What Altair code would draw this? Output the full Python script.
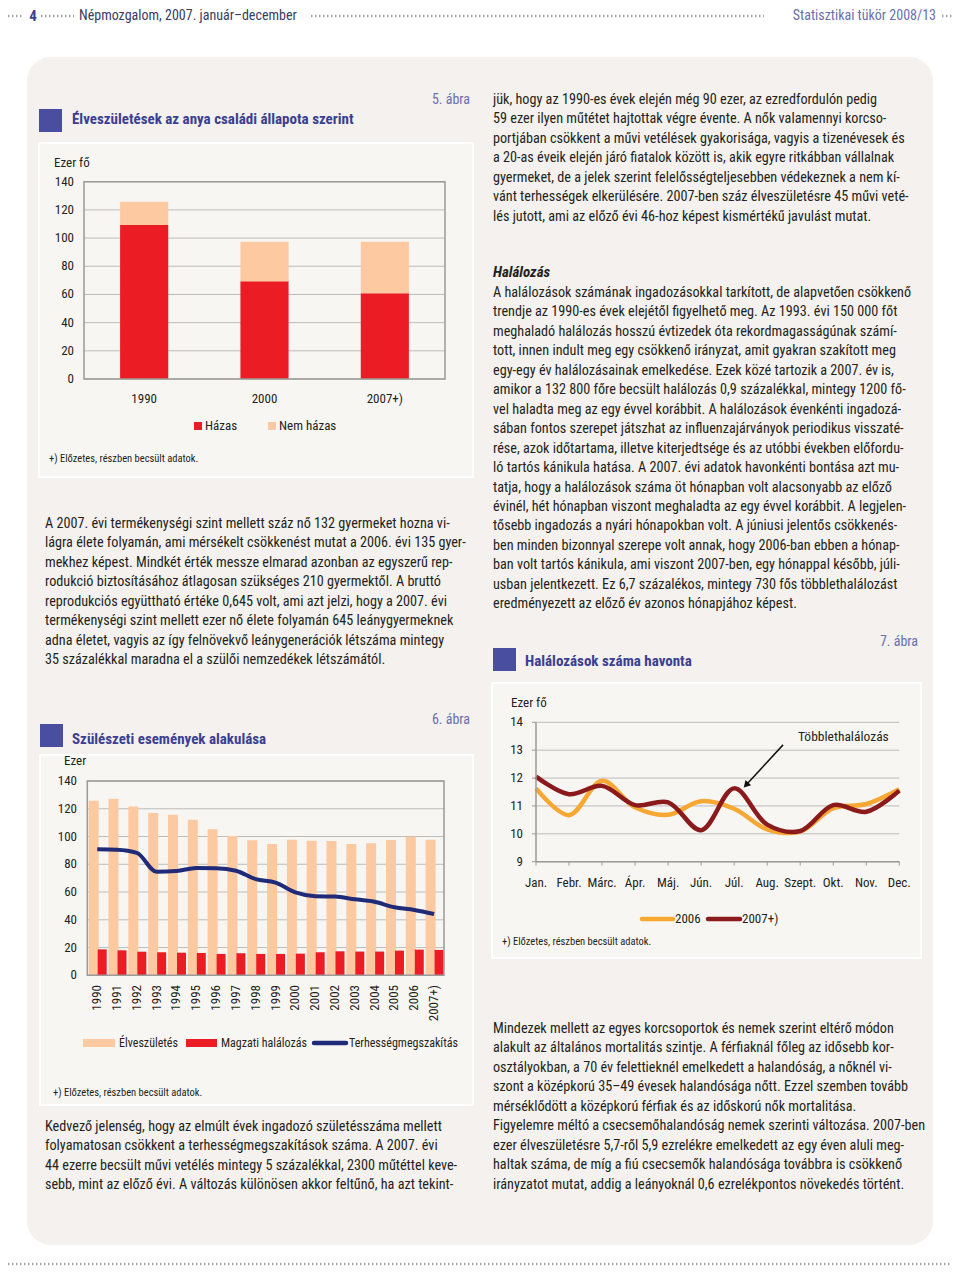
import altair as alt
import pandas as pd

# ---------------- data ----------------
fig5_years = ["1990", "2000", "2007+)"]
fig5_married = [109.3, 69.3, 60.8]
fig5_unmarried = [16.5, 28.1, 36.6]
fig5_ticks = [0, 20, 40, 60, 80, 100, 120, 140]

fig6_years = ["1990", "1991", "1992", "1993", "1994", "1995", "1996", "1997", "1998",
              "1999", "2000", "2001", "2002", "2003", "2004", "2005", "2006", "2007+)"]
fig6_births = [125.7, 127.2, 121.7, 117.0, 115.6, 112.1, 105.3, 100.4, 97.3,
               94.6, 97.6, 97.0, 96.8, 94.6, 95.1, 97.5, 99.9, 97.6]
fig6_fetal = [18.7, 18.0, 17.0, 16.6, 16.3, 16.1, 15.4, 15.9, 15.4,
              15.4, 15.6, 16.6, 17.3, 17.1, 17.1, 17.8, 18.5, 18.3]
fig6_abortion = [90.8, 90.5, 88.2, 74.6, 75.1, 77.4, 77.2, 75.3, 69.3,
                 66.8, 59.8, 57.0, 56.7, 54.8, 53.0, 49.0, 47.1, 44.2]
fig6_ticks = [0, 20, 40, 60, 80, 100, 120, 140]

fig7_months = ["Jan.", "Febr.", "Márc.", "Ápr.", "Máj.", "Jún.", "Júl.", "Aug.",
               "Szept.", "Okt.", "Nov.", "Dec."]
fig7_month_no = [1, 2, 3, 4, 5, 6, 7, 8, 9, 10, 11, 12]
fig7_2006 = [11.63, 10.67, 11.90, 10.95, 10.68, 11.17, 10.90, 10.16, 10.08, 10.92, 11.07, 11.60]
fig7_2007 = [12.05, 11.42, 11.72, 11.03, 11.13, 10.13, 11.63, 10.33, 10.10, 11.03, 10.79, 11.55]
fig7_ticks = [9, 10, 11, 12, 13, 14]
# arrow annotation (month position, value)
fig7_arrow_tail = (8.48, 13.19)
fig7_arrow_tip = (7.36, 11.75)

text_right_top = [
    "jük, hogy az 1990-es évek elején még 90 ezer, az ezredfordulón pedig",
    "59 ezer ilyen műtétet hajtottak végre évente. A nők valamennyi korcso-",
    "portjában csökkent a művi vetélések gyakorisága, vagyis a tizenévesek és",
    "a 20-as éveik elején járó fiatalok között is, akik egyre ritkábban vállalnak",
    "gyermeket, de a jelek szerint felelősségteljesebben védekeznek a nem kí-",
    "vánt terhességek elkerülésére. 2007-ben száz élveszületésre 45  művi veté-",
    "lés jutott, ami az előző évi 46-hoz képest kismértékű javulást mutat.",
]
text_halalozas = [
    "A halálozások számának ingadozásokkal tarkított, de alapvetően csökkenő",
    "trendje az 1990-es évek elejétől figyelhető meg. Az 1993. évi 150 000 főt",
    "meghaladó halálozás hosszú évtizedek óta rekordmagasságúnak számí-",
    "tott, innen indult meg egy csökkenő irányzat, amit gyakran szakított meg",
    "egy-egy év halálozásainak emelkedése. Ezek közé tartozik a 2007. év is,",
    "amikor a 132 800 főre becsült halálozás 0,9 százalékkal, mintegy 1200 fő-",
    "vel haladta meg az egy évvel korábbit. A halálozások évenkénti ingadozá-",
    "sában fontos szerepet játszhat az influenzajárványok periodikus visszaté-",
    "rése, azok időtartama, illetve kiterjedtsége és az utóbbi években előfordu-",
    "ló tartós kánikula hatása. A 2007. évi adatok havonkénti bontása azt mu-",
    "tatja, hogy a halálozások száma öt hónapban volt alacsonyabb az előző",
    "évinél, hét hónapban viszont meghaladta az egy évvel korábbit. A legjelen-",
    "tősebb ingadozás a nyári hónapokban volt. A júniusi jelentős csökkenés-",
    "ben minden bizonnyal szerepe volt annak, hogy 2006-ban ebben a hónap-",
    "ban volt tartós kánikula, ami viszont 2007-ben, egy hónappal később, júli-",
    "usban jelentkezett. Ez 6,7 százalékos, mintegy 730 fős többlethalálozást",
    "eredményezett az előző év azonos hónapjához képest.",
]
text_left_mid = [
    "A 2007. évi termékenységi szint mellett száz nő 132 gyermeket hozna vi-",
    "lágra élete folyamán, ami mérsékelt csökkenést mutat a 2006. évi 135 gyer-",
    "mekhez képest. Mindkét érték messze elmarad azonban az egyszerű rep-",
    "rodukció biztosításához átlagosan szükséges 210 gyermektől. A bruttó",
    "reprodukciós együttható értéke 0,645 volt, ami azt jelzi, hogy a 2007. évi",
    "termékenységi szint mellett ezer nő élete folyamán 645 leánygyermeknek",
    "adna életet, vagyis az így felnövekvő leánygenerációk létszáma mintegy",
    "35 százalékkal maradna el a szülői nemzedékek létszámától.",
]
text_left_bottom = [
    "Kedvező jelenség, hogy az elmúlt évek ingadozó születésszáma mellett",
    "folyamatosan csökkent a terhességmegszakítások száma. A 2007. évi",
    "44 ezerre becsült művi vetélés mintegy 5 százalékkal, 2300 műtéttel keve-",
    "sebb, mint az előző évi. A változás különösen akkor feltűnő, ha azt tekint-",
]
text_right_bottom = [
    "Mindezek mellett az egyes korcsoportok és nemek szerint eltérő módon",
    "alakult az általános mortalitás szintje. A férfiaknál főleg az idősebb kor-",
    "osztályokban, a 70 év felettieknél emelkedett a halandóság, a nőknél vi-",
    "szont a középkorú 35–49 évesek halandósága nőtt. Ezzel szemben tovább",
    "mérséklődött a középkorú férfiak és az időskorú nők mortalitása.",
    "Figyelemre méltó a csecsemőhalandóság nemek szerinti változása. 2007-ben",
    "ezer élveszületésre 5,7-ről 5,9 ezrelékre emelkedett az egy éven aluli meg-",
    "haltak száma, de míg a fiú csecsemők halandósága továbbra is csökkenő",
    "irányzatot mutat, addig a leányoknál 0,6 ezrelékpontos növekedés történt.",
]

# ---------------- style ----------------
FONT = "Liberation Sans Narrow, Arial Narrow, Roboto Condensed, DejaVu Sans Condensed, sans-serif"
RED = "#ec1c24"
PEACH = "#fcc9a1"
NAVY = "#1f2a78"
ORANGE = "#f6a833"
DARKRED = "#8a1a1c"
BLUE = "#3b3f93"
SQUARE = "#4a4ea0"
LIGHTBLUE = "#6a6fae"
TXT = "#231f20"
GRID = "#bcbcbc"
FRAME = "#9a9a9a"
PANEL = "#f4f1ee"
BOX = "#f8f6f3"
DOTS = "#a8a8a8"

M = 8  # page margin


def px(v):
    return v - M


one = pd.DataFrame({"k": [0]})


def rect(x1, y1, x2, y2, **kw):
    return alt.Chart(one).mark_rect(**kw).encode(
        x=alt.value(px(x1)), x2=alt.value(px(x2)),
        y=alt.value(px(y1)), y2=alt.value(px(y2)))


def hrule(x1, x2, y, **kw):
    return alt.Chart(one).mark_rule(**kw).encode(
        x=alt.value(px(x1)), x2=alt.value(px(x2)), y=alt.value(px(y)))


def label(s, x, y, size=13, color=TXT, align="left", weight="normal", style="normal"):
    return alt.Chart(pd.DataFrame({"t": [s]})).mark_text(
        align=align, baseline="middle", fontSize=size, color=color,
        fontWeight=weight, fontStyle=style, font=FONT).encode(
        x=alt.value(px(x)), y=alt.value(px(y)), text="t:N")


def block(lines, x, y0, lh=19.45, size=14.2):
    df = pd.DataFrame({"t": lines, "i": list(range(len(lines)))})
    return alt.Chart(df).transform_calculate(
        py=f"{px(y0)} + datum.i * {lh}").mark_text(
        align="left", baseline="middle", fontSize=size, color=TXT, font=FONT).encode(
        x=alt.value(px(x)), y=alt.Y("py:Q", scale=None, axis=None), text="t:N")


def fig_title(num, title, sq_x, sq_y, title_x, title_y, num_right, num_y):
    return [
        rect(sq_x, sq_y, sq_x + 23, sq_y + 23, fill=SQUARE),
        label(title, title_x, title_y, size=15, color=BLUE, weight="bold"),
        label(num, num_right, num_y, size=14, color=LIGHTBLUE, align="right"),
    ]


# ---------------- figure 5 ----------------
d5 = pd.DataFrame({"year": fig5_years, "married": fig5_married, "unmarried": fig5_unmarried})
t5 = pd.DataFrame({"v": fig5_ticks})
X5 = alt.Scale(domain=fig5_years, range=[px(84), px(445)], paddingInner=0.6, paddingOuter=0.3)
Y5 = alt.Scale(domain=[0, 140], range=[px(379), px(181.7)], nice=False, zero=False)
x5 = alt.X("year:N", scale=X5, axis=None)

fig5 = alt.layer(
    alt.Chart(t5).mark_rule(color=GRID, strokeWidth=1).encode(
        x=alt.value(px(84)), x2=alt.value(px(445)), y=alt.Y("v:Q", scale=Y5, axis=None)),
    alt.Chart(d5).mark_bar(color=RED).encode(
        x=x5, y=alt.Y("married:Q", scale=Y5, axis=None)),
    alt.Chart(d5).transform_calculate(total="datum.married + datum.unmarried").mark_bar(color=PEACH).encode(
        x=x5, y=alt.Y("married:Q", scale=Y5, axis=None), y2="total:Q"),
    alt.Chart(t5).mark_text(align="right", baseline="middle", font=FONT, fontSize=13, color=TXT).encode(
        x=alt.value(px(74)), y=alt.Y("v:Q", scale=Y5, axis=None), text="v:Q"),
    alt.Chart(d5).mark_text(align="center", baseline="middle", font=FONT, fontSize=13, color=TXT).encode(
        x=x5, y=alt.value(px(399)), text="year:N"),
)

# ---------------- figure 6 ----------------
d6 = pd.DataFrame({"year": fig6_years, "births": fig6_births, "fetal": fig6_fetal,
                   "abortion": fig6_abortion})
t6 = pd.DataFrame({"v": fig6_ticks})
X6 = alt.Scale(domain=fig6_years, range=[px(87.3), px(444)], paddingInner=0, paddingOuter=0)
Y6 = alt.Scale(domain=[0, 140], range=[px(975.3), px(781)], nice=False, zero=False)
x6 = alt.X("year:N", scale=X6, axis=None)

fig6 = alt.layer(
    alt.Chart(t6).mark_rule(color=GRID, strokeWidth=1).encode(
        x=alt.value(px(87.3)), x2=alt.value(px(444)), y=alt.Y("v:Q", scale=Y6, axis=None)),
    alt.Chart(d6).mark_bar(color=PEACH, width=10, xOffset=-3.5).encode(
        x=x6, y=alt.Y("births:Q", scale=Y6, axis=None)),
    alt.Chart(d6).mark_bar(color=RED, width=9, xOffset=5).encode(
        x=x6, y=alt.Y("fetal:Q", scale=Y6, axis=None)),
    alt.Chart(d6).mark_line(color=NAVY, strokeWidth=4, interpolate="monotone").encode(
        x=x6, y=alt.Y("abortion:Q", scale=Y6, axis=None)),
    alt.Chart(t6).mark_text(align="right", baseline="middle", font=FONT, fontSize=13, color=TXT).encode(
        x=alt.value(px(77)), y=alt.Y("v:Q", scale=Y6, axis=None), text="v:Q"),
    alt.Chart(d6).mark_text(align="right", baseline="middle", angle=270, font=FONT, fontSize=13, color=TXT).encode(
        x=x6, y=alt.value(px(985)), text="year:N"),
)

# ---------------- figure 7 ----------------
d7 = pd.DataFrame({
    "m": fig7_month_no * 2,
    "v": fig7_2006 + fig7_2007,
    "s": ["2006"] * 12 + ["2007+)"] * 12,
})
m7 = pd.DataFrame({"m": fig7_month_no, "name": fig7_months})
t7 = pd.DataFrame({"v": fig7_ticks})
X7 = alt.Scale(domain=[1, 12], range=[px(536), px(899.3)], nice=False, zero=False)
Y7 = alt.Scale(domain=[9, 14], range=[px(861.7), px(722.3)], nice=False, zero=False)
arrow = pd.DataFrame({"x1": [fig7_arrow_tail[0]], "y1": [fig7_arrow_tail[1]],
                      "x2": [fig7_arrow_tip[0]], "y2": [fig7_arrow_tip[1]]})

fig7 = alt.layer(
    alt.Chart(t7).mark_rule(color=GRID, strokeWidth=1).encode(
        x=alt.value(px(536)), x2=alt.value(px(899.3)), y=alt.Y("v:Q", scale=Y7, axis=None)),
    alt.Chart(t7).mark_rule(color=FRAME, strokeWidth=1).encode(
        x=alt.value(px(532)), x2=alt.value(px(536)), y=alt.Y("v:Q", scale=Y7, axis=None)),
    alt.Chart(m7).mark_rule(color=FRAME, strokeWidth=1).encode(
        x=alt.X("m:Q", scale=X7, axis=None), y=alt.value(px(861.7)), y2=alt.value(px(865.5))),
    alt.Chart(d7).transform_filter("datum.s == '2006'").mark_line(
        color=ORANGE, strokeWidth=4.5, interpolate="catmull-rom").encode(
        x=alt.X("m:Q", scale=X7, axis=None), y=alt.Y("v:Q", scale=Y7, axis=None)),
    alt.Chart(d7).transform_filter("datum.s == '2007+)'").mark_line(
        color=DARKRED, strokeWidth=4.5, interpolate="catmull-rom").encode(
        x=alt.X("m:Q", scale=X7, axis=None), y=alt.Y("v:Q", scale=Y7, axis=None)),
    alt.Chart(t7).mark_text(align="right", baseline="middle", font=FONT, fontSize=13, color=TXT).encode(
        x=alt.value(px(523)), y=alt.Y("v:Q", scale=Y7, axis=None), text="v:Q"),
    alt.Chart(m7).mark_text(align="center", baseline="middle", font=FONT, fontSize=13, color=TXT).encode(
        x=alt.X("m:Q", scale=X7, axis=None), y=alt.value(px(883)), text="name:N"),
    alt.Chart(arrow).mark_rule(color="#111111", strokeWidth=1.5).encode(
        x=alt.X("x1:Q", scale=X7, axis=None), x2="x2:Q",
        y=alt.Y("y1:Q", scale=Y7, axis=None), y2="y2:Q"),
    alt.Chart(arrow).mark_point(shape="triangle-up", filled=True, size=60, angle=223,
                                color="#111111", opacity=1).encode(
        x=alt.X("x2:Q", scale=X7, axis=None), y=alt.Y("y2:Q", scale=Y7, axis=None)),
)

# ---------------- page furniture ----------------
HY = 16  # header line (page y); the page margin leaves no room higher up
layers = [
    rect(27, 57, 933, 1245, fill=PANEL, cornerRadius=24),
    # header
    hrule(0, 24, HY, color=DOTS, strokeWidth=2.5, strokeDash=[1.5, 2.5]),
    label("4", 33, HY, size=15, color=BLUE, align="center", weight="bold"),
    hrule(41, 74, HY, color=DOTS, strokeWidth=2.5, strokeDash=[1.5, 2.5]),
    label("Népmozgalom, 2007. január–december", 79, HY, size=14, color="#3a3c66"),
    hrule(311, 764, HY, color=DOTS, strokeWidth=2.5, strokeDash=[1.5, 2.5]),
    label("Statisztikai tükör  2008/13", 936, HY, size=14, color=LIGHTBLUE, align="right"),
    hrule(942, 960, HY, color=DOTS, strokeWidth=2.5, strokeDash=[1.5, 2.5]),
    hrule(0, 960, 1264, color=DOTS, strokeWidth=2.5, strokeDash=[1.5, 2.5]),
    # figure boxes
    rect(39, 143, 473, 477, fill=BOX, stroke="#ffffff", strokeWidth=2),
    rect(40, 755, 473, 1105, fill=BOX, stroke="#ffffff", strokeWidth=2),
    rect(492, 683, 921, 958, fill=BOX, stroke="#ffffff", strokeWidth=2),
]

# figure 5 decorations
layers += fig_title("5. ábra", "Élveszületések az anya családi állapota szerint",
                    39, 109, 72, 119, 470, 100)
layers += [
    label("Ezer fő", 54, 163, size=13),
    fig5,
    rect(84, 181.7, 445, 379, fill="transparent", stroke=FRAME, strokeWidth=1.5),
    rect(194, 422, 202, 430, fill=RED),
    label("Házas", 205, 426, size=13),
    rect(268, 422, 276, 430, fill=PEACH),
    label("Nem házas", 279, 426, size=13),
    label("+) Előzetes, részben becsült adatok.", 49, 459, size=10.5),
]

# figure 6 decorations
layers += fig_title("6. ábra", "Szülészeti események alakulása",
                    40, 724, 72, 739, 470, 720)
layers += [
    label("Ezer", 64, 761, size=13),
    fig6,
    rect(87.3, 781, 444, 975.3, fill="transparent", stroke=FRAME, strokeWidth=1.5),
    rect(83, 1039, 115, 1047, fill=PEACH),
    label("Élveszületés", 119, 1043, size=12),
    rect(186, 1039, 217, 1047, fill=RED),
    label("Magzati halálozás", 221, 1043, size=12),
    hrule(314, 346, 1043, color=NAVY, strokeWidth=4.5, strokeCap="round"),
    label("Terhességmegszakítás", 349, 1043, size=12),
    label("+) Előzetes, részben becsült adatok.", 53, 1093, size=10.5),
]

# figure 7 decorations
layers += fig_title("7. ábra", "Halálozások száma havonta",
                    493, 648, 525, 661, 918, 642)
layers += [
    label("Ezer fő", 511, 703, size=13),
    fig7,
    alt.Chart(one).mark_rule(color=FRAME, strokeWidth=1.5).encode(
        x=alt.value(px(536)), y=alt.value(px(722.3)), y2=alt.value(px(861.7))),
    hrule(536, 899.3, 861.7, color=FRAME, strokeWidth=1.5),
    label("Többlethalálozás", 798, 737, size=13.5),
    hrule(642, 673, 919, color=ORANGE, strokeWidth=4.5, strokeCap="round"),
    label("2006", 675, 919, size=13),
    hrule(708, 740, 919, color=DARKRED, strokeWidth=4.5, strokeCap="round"),
    label("2007+)", 742, 919, size=13),
    label("+) Előzetes, részben becsült adatok.", 502, 942, size=10.5),
]

# body text
layers += [
    block(text_right_top, 493, 100),
    label("Halálozás", 493, 272, size=15, weight="bold", style="italic"),
    block(text_halalozas, 493, 293),
    block(text_left_mid, 45, 524),
    block(text_left_bottom, 45, 1127),
    block(text_right_bottom, 493, 1029),
]

chart = alt.layer(*layers).resolve_scale(
    x="independent", y="independent"
).properties(
    width=944, height=1258, padding=0, background="white",
    autosize=alt.AutoSizeParams(type="none"),
).configure_view(stroke=None)

chart.save("out.html", embed_options={"renderer": "svg", "actions": False})
